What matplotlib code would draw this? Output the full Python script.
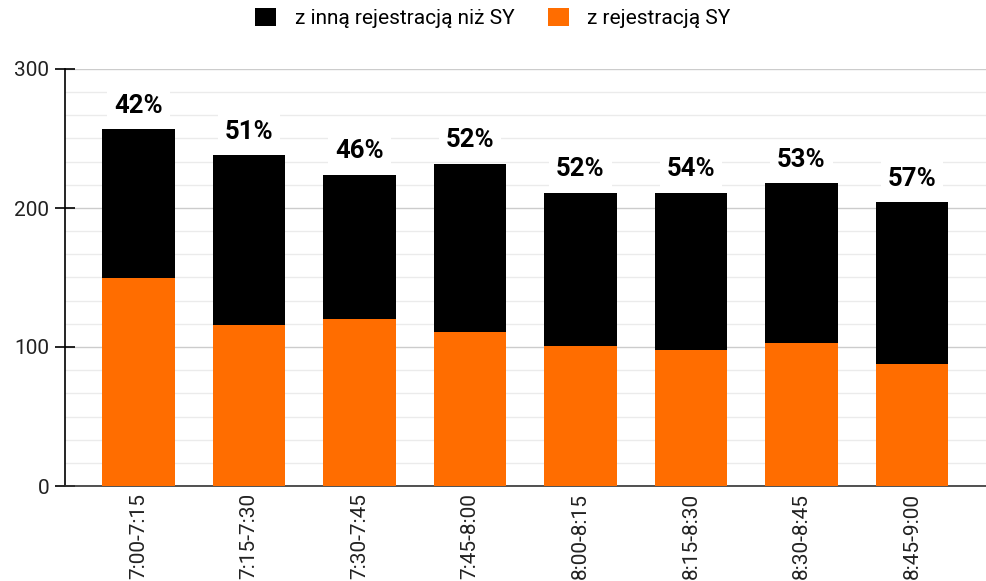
import numpy as np
import matplotlib.pyplot as plt
from matplotlib.ticker import MultipleLocator

plt.rcParams['font.family'] = ['Roboto', 'DejaVu Sans']

# dane
przedzialy = ['7:00-7:15', '7:15-7:30', '7:30-7:45', '7:45-8:00',
              '8:00-8:15', '8:15-8:30', '8:30-8:45', '8:45-9:00']
z_sy = [150, 116, 120, 111, 101, 98, 103, 88]
inne = [107, 122, 104, 121, 110, 113, 115, 116]

ORANGE = '#ff6d00'

fig = plt.figure(figsize=(9.86, 5.81), dpi=100)
ax = fig.add_axes([65 / 986, 1 - 486 / 581, 1 - 65 / 986, (486 - 69) / 581])

x = np.arange(len(przedzialy))
szer = 0.66
ax.bar(x, z_sy, szer, color=ORANGE, label='z rejestracją SY', zorder=3)
ax.bar(x, inne, szer, bottom=z_sy, color='black', label='z inną rejestracją niż SY', zorder=3)

# procent pojazdow z inna rejestracja
for xi, a, b in zip(x, z_sy, inne):
    suma = a + b
    ax.text(xi, suma + 18.5, f'{round(100 * b / suma)}%', ha='center', va='center_baseline',
            fontsize=18.5, fontweight='bold', color='black', zorder=4,
            bbox=dict(facecolor='white', edgecolor='none', pad=5))

ax.set_xlim(-0.665, 7.67)
ax.set_ylim(0, 300)
ax.yaxis.set_major_locator(MultipleLocator(100))
ax.yaxis.set_minor_locator(MultipleLocator(100 / 6))
ax.grid(which='major', axis='y', color='#cccccc', lw=1, zorder=0)
ax.grid(which='minor', axis='y', color='#ebebeb', lw=1, zorder=0)
ax.set_xticks(x)
ax.set_xticklabels(przedzialy, rotation=90, fontsize=15, color='#222222')
ax.tick_params(axis='x', length=0, pad=5)
ax.tick_params(axis='y', which='major', direction='inout', length=15, width=1.2,
               labelsize=15, labelcolor='#222222', pad=4)
ax.tick_params(axis='y', which='minor', length=0)

for s in ['top', 'right']:
    ax.spines[s].set_visible(False)
ax.spines['left'].set_color('black')
ax.spines['left'].set_linewidth(1.2)
ax.spines['bottom'].set_color('#333333')
ax.spines['bottom'].set_linewidth(1.2)

uchwyty, etykiety = ax.get_legend_handles_labels()
fig.legend(uchwyty[::-1], etykiety[::-1], loc='center', bbox_to_anchor=(0.5, 1 - 18 / 581),
           ncol=2, frameon=False, fontsize=15, handlelength=1.0, handleheight=1.0,
           columnspacing=1.6, handletextpad=0.9)

fig.savefig('out.png', dpi=100)
